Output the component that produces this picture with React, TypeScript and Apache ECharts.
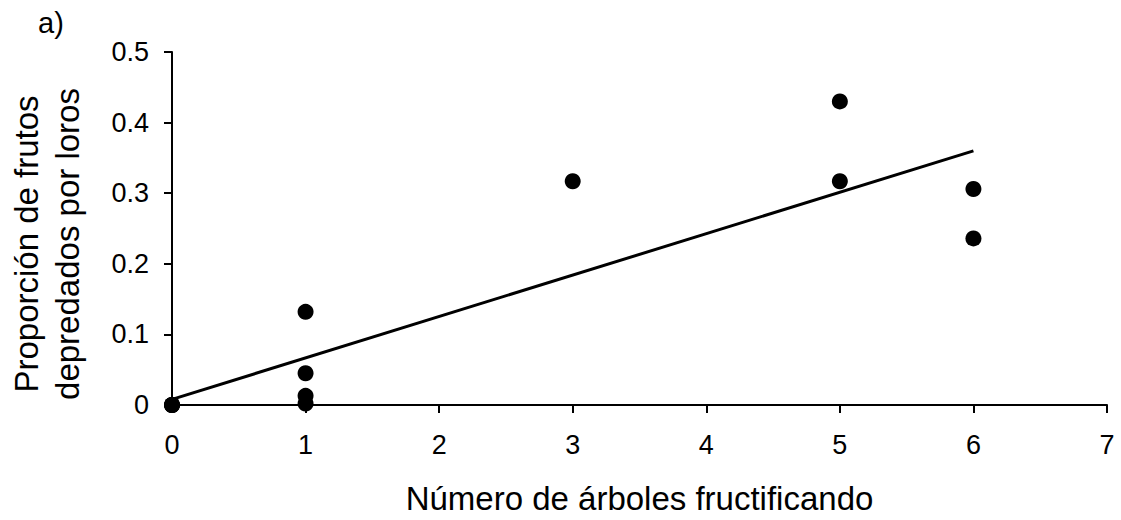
import React, { useEffect, useRef } from "react";
import * as echarts from "echarts";

const pointsX = [0, 0, 0, 1, 1, 1, 1, 3, 5, 5, 6, 6];
const pointsY = [0, 0, 0, 0.132, 0.045, 0.013, 0.002, 0.317, 0.43, 0.317, 0.306, 0.236];
const trendX = [0, 6];
const trendY = [0.008, 0.36];
const xTicks = { min: 0, max: 7, interval: 1 };
const yTicks = { min: 0, max: 0.5, interval: 0.1 };
const xTitle = "Número de árboles fructificando";
const yTitle = "Proporción de frutos\ndepredados por loros";
const panelLabel = "a)";

const FONT = '"Liberation Sans", Arial, sans-serif';

export default function App() {
  const ref = useRef<HTMLDivElement>(null);
  useEffect(() => {
    if (!ref.current) return;
    const chart = echarts.init(ref.current, undefined, { renderer: "svg" });
    const scatter = pointsX.map((x, i) => [x, pointsY[i]]);
    const trend = trendX.map((x, i) => [x, trendY[i]]);
    chart.setOption({
      animation: false,
      backgroundColor: "#ffffff",
      grid: { left: 172, right: 14, top: 52, bottom: 115, containLabel: false },
      xAxis: {
        type: "value",
        min: xTicks.min,
        max: xTicks.max,
        interval: xTicks.interval,
        name: xTitle,
        nameLocation: "middle",
        nameGap: 77,
        nameTextStyle: { fontFamily: FONT, fontSize: 33, color: "#000" },
        axisLine: { show: true, onZero: false, lineStyle: { color: "#000", width: 2 } },
        axisTick: { show: true, length: 8, lineStyle: { color: "#000", width: 2 } },
        axisLabel: { fontFamily: FONT, fontSize: 27, color: "#000", margin: 26 },
        splitLine: { show: false },
      },
      yAxis: {
        type: "value",
        min: yTicks.min,
        max: yTicks.max,
        interval: yTicks.interval,
        axisLine: { show: true, onZero: false, lineStyle: { color: "#000", width: 2 } },
        axisTick: { show: true, length: 8, lineStyle: { color: "#000", width: 2 } },
        axisLabel: {
          fontFamily: FONT,
          fontSize: 27,
          color: "#000",
          margin: 23,
          formatter: (v: number) => (v === 0 ? "0" : v.toFixed(1)),
        },
        splitLine: { show: false },
      },
      graphic: [
        {
          type: "text",
          x: 47,
          y: 244,
          rotation: Math.PI / 2,
          style: {
            text: yTitle,
            font: `33px ${FONT}`,
            fill: "#000",
            textAlign: "center",
            textVerticalAlign: "middle",
            lineHeight: 41,
          },
        },
        {
          type: "text",
          x: 51,
          y: 23,
          style: {
            text: panelLabel,
            font: `29px ${FONT}`,
            fill: "#000",
            textAlign: "center",
            textVerticalAlign: "middle",
          },
        },
      ],
      series: [
        {
          type: "line",
          data: trend,
          symbol: "none",
          lineStyle: { color: "#000", width: 3 },
          z: 3,
        },
        {
          type: "scatter",
          data: scatter,
          symbol: "circle",
          symbolSize: 16,
          itemStyle: { color: "#000", opacity: 1 },
          clip: false,
          z: 4,
        },
      ],
    });
    return () => chart.dispose();
  }, []);
  return (
    <div
      ref={ref}
      style={{ position: "absolute", left: 0, top: 0, width: 1121, height: 520 }}
    />
  );
}
